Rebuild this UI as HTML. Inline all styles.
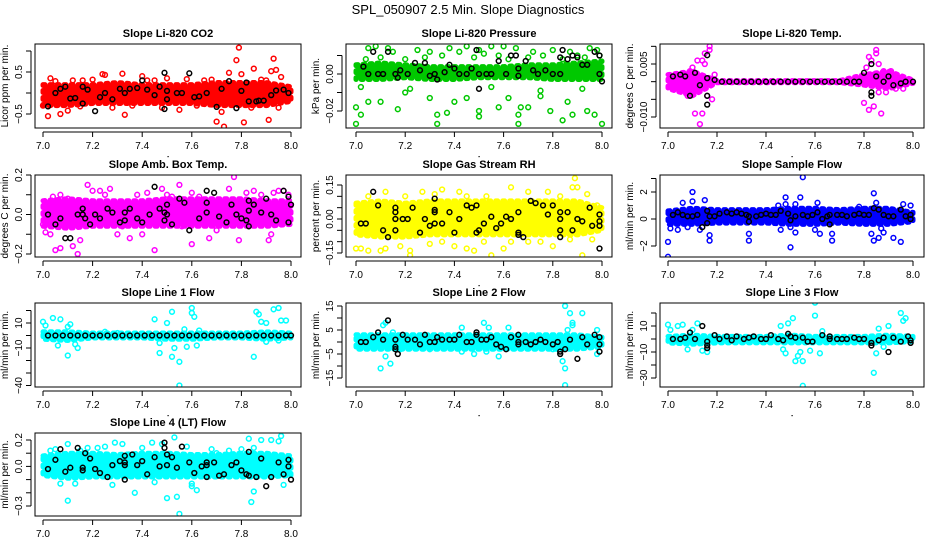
<!DOCTYPE html>
<html><head><meta charset="utf-8">
<style>
html,body{margin:0;padding:0;background:#fff;}
svg{display:block;font-family:"Liberation Sans",Arial,sans-serif;}
</style></head>
<body>
<svg id="chart" width="936" height="540" viewBox="0 0 936 540" xmlns="http://www.w3.org/2000/svg">
<rect x="0" y="0" width="936" height="540" fill="#fff"/>
<text x="468" y="14" text-anchor="middle" font-size="13">SPL_050907  2.5 Min. Slope Diagnostics</text>
</svg>
<script>
// shared x categories for band envelopes
const bandX = [7.0,7.1,7.2,7.3,7.4,7.5,7.6,7.7,7.8,7.9,8.0];
const xTicks = [7.0,7.2,7.4,7.6,7.8,8.0];
const xTickLabels = ["7.0","7.2","7.4","7.6","7.8","8.0"];

// Panel 1: CO2
const p1Lo = [-0.3,-0.3,-0.25,-0.25,-0.25,-0.25,-0.25,-0.3,-0.3,-0.3,-0.2];
const p1Hi = [0.2,0.2,0.2,0.25,0.2,0.2,0.2,0.25,0.25,0.25,0.15];
const p1Pts = [7.02,-0.55,7.0,-0.3,7.03,0.35,7.07,-0.5,7.1,-0.42,7.16,0.3,7.24,0.45,7.25,0.43,7.32,0.46,7.33,-0.52,7.4,0.4,7.45,0.3,7.5,0.35,7.55,-0.4,7.62,-0.3,7.65,0.3,7.7,-0.68,7.73,-0.8,7.75,0.48,7.78,0.78,7.79,1.08,7.8,0.45,7.81,-0.7,7.85,0.58,7.9,0.3,7.91,-0.64,7.92,0.52,7.93,0.82,7.94,0.55,7.96,0.38,7.95,-0.35,7.05,0.28,7.12,0.3,7.2,0.32,7.28,-0.35,7.36,-0.3,7.48,-0.35,7.58,0.33,7.68,0.32,7.72,-0.45,7.84,-0.35,7.88,0.32,7.98,0.1,7.15,-0.32,7.42,0.3];
const p1Blk = [7.02,-0.32,7.05,0.0,7.07,0.1,7.09,0.15,7.11,-0.13,7.13,-0.12,7.16,0.15,7.16,-0.25,7.18,0.08,7.21,-0.43,7.23,-0.1,7.25,0.0,7.28,-0.15,7.31,0.1,7.33,0.0,7.35,0.1,7.38,0.12,7.4,0.3,7.42,0.08,7.45,-0.05,7.47,0.15,7.49,0.48,7.49,-0.38,7.5,-0.15,7.5,0.05,7.54,0.0,7.56,0.0,7.59,0.47,7.61,-0.1,7.63,-0.08,7.66,0.0,7.7,-0.33,7.72,0.1,7.75,0.28,7.78,-0.36,7.8,0.05,7.82,0.25,7.83,-0.2,7.86,-0.2,7.87,-0.18,7.89,-0.18,7.92,-0.05,7.94,0.06,7.97,0.08,7.99,0.0];

// Panel 2: Pressure
const p2Lo = [-0.003,-0.003,-0.002,-0.003,-0.003,-0.002,-0.002,-0.002,-0.003,-0.003,-0.003];
const p2Hi = [0.005,0.006,0.005,0.004,0.004,0.004,0.004,0.005,0.005,0.006,0.007];
const p2Pts = [7.0,-0.018,7.0,-0.027,7.02,-0.022,7.05,-0.015,7.1,-0.015,7.17,-0.019,7.2,-0.01,7.3,-0.013,7.33,-0.022,7.33,-0.027,7.37,-0.021,7.4,-0.015,7.45,-0.013,7.5,-0.02,7.5,-0.023,7.58,-0.018,7.62,-0.013,7.66,-0.022,7.66,-0.027,7.67,-0.018,7.7,-0.018,7.75,-0.012,7.79,-0.02,7.84,-0.025,7.86,-0.015,7.88,-0.022,7.94,-0.02,7.97,-0.022,8.0,-0.027,7.05,0.014,7.08,0.015,7.13,0.014,7.25,0.013,7.3,0.012,7.38,0.014,7.45,0.015,7.5,0.013,7.55,0.015,7.6,0.015,7.65,0.014,7.72,0.012,7.8,0.013,7.87,0.012,7.95,0.014,7.98,0.013,7.15,0.012,7.42,0.012,7.52,0.011,7.9,0.01,7.02,-0.007,7.22,-0.008,7.55,-0.007,7.75,-0.009,7.92,-0.008,7.04,0.008,7.1,0.009,7.2,0.008,7.28,0.009,7.35,0.01,7.48,0.009,7.58,0.01,7.62,0.008,7.7,0.009,7.76,0.01,7.84,0.008,7.93,0.009,7.99,0.01];
const p2Blk = [7.03,0.004,7.05,0.0,7.07,0.012,7.09,0.0,7.11,0.0,7.13,0.012,7.16,0.0,7.17,-0.002,7.18,0.002,7.21,0.0,7.24,0.006,7.26,0.002,7.28,0.006,7.3,-0.001,7.32,0.0,7.33,-0.003,7.36,0.001,7.38,0.005,7.4,0.003,7.42,0.0,7.45,0.0,7.47,0.003,7.49,0.013,7.5,-0.008,7.5,0.0,7.53,0.0,7.55,0.0,7.58,0.007,7.61,0.0,7.63,0.01,7.65,0.01,7.66,0.003,7.66,-0.001,7.69,0.007,7.72,0.002,7.74,0.0,7.77,0.002,7.8,0.0,7.83,0.0,7.83,0.009,7.84,0.013,7.86,0.008,7.88,0.01,7.9,0.009,7.92,0.005,7.94,0.005,7.97,0.012,7.99,0.0,7.99,0.01,8.0,-0.004];

// Panel 3: Li-820 Temp
const p3Lo = [-0.002,-0.004,-0.0003,-0.0003,-0.0003,-0.0003,-0.0003,-0.0003,-0.001,-0.002,-0.0005];
const p3Hi = [0.002,0.003,0.0003,0.0003,0.0003,0.0003,0.0003,0.0003,0.002,0.003,0.0005];
const p3Pts = [7.02,0.001,7.05,0.0,7.08,-0.004,7.09,0.003,7.1,0.004,7.11,-0.009,7.12,0.006,7.13,-0.012,7.14,0.006,7.14,-0.009,7.15,0.005,7.16,-0.004,7.17,0.009,7.17,0.01,7.18,-0.005,7.19,0.002,7.12,-0.002,7.06,0.002,7.04,-0.001,7.15,0.008,7.8,-0.006,7.81,0.004,7.82,0.007,7.82,-0.008,7.83,0.006,7.84,-0.007,7.85,0.008,7.85,0.009,7.86,0.005,7.87,-0.009,7.88,0.003,7.89,-0.003,7.9,0.002,7.91,0.003,7.93,-0.002,7.96,-0.002,7.84,0.002,7.86,-0.003];
const p3Blk = [7.02,0.0015,7.05,0.002,7.07,0.0015,7.09,-0.004,7.11,0.0025,7.13,-0.001,7.16,0.001,7.16,-0.004,7.16,-0.0065,7.16,0.0075,7.19,0.0005,7.22,0,7.25,0,7.28,0,7.31,0,7.34,0,7.37,0,7.4,0,7.43,0,7.46,0,7.49,0,7.52,0,7.55,0,7.58,0,7.61,0,7.64,0,7.67,0,7.7,0,7.73,0,7.76,0,7.78,0,7.8,0.0025,7.83,0.005,7.83,-0.003,7.83,-0.004,7.85,0.0015,7.88,0.0,7.9,0.0015,7.92,-0.001,7.95,-0.0005,7.97,0.0,8.0,0.0];

// Panel 4: Amb. Box Temp
const p4Lo = [-0.06,-0.07,-0.06,-0.06,-0.06,-0.06,-0.06,-0.06,-0.06,-0.06,-0.05];
const p4Hi = [0.07,0.08,0.07,0.07,0.07,0.08,0.08,0.08,0.08,0.07,0.07];
const p4Pts = [7.0,-0.05,7.01,-0.09,7.03,-0.1,7.05,-0.18,7.07,-0.17,7.04,0.09,7.07,0.1,7.1,0.08,7.12,-0.16,7.14,-0.2,7.15,-0.13,7.18,0.15,7.2,0.12,7.23,0.12,7.25,0.1,7.27,0.13,7.3,-0.1,7.32,-0.06,7.35,-0.12,7.38,0.1,7.4,-0.1,7.42,0.11,7.45,-0.18,7.48,0.13,7.5,0.1,7.52,0.09,7.55,0.15,7.56,-0.06,7.6,-0.15,7.6,0.11,7.63,0.09,7.67,-0.12,7.7,-0.08,7.75,0.13,7.77,0.19,7.79,-0.13,7.82,0.11,7.85,0.12,7.88,0.1,7.91,-0.13,7.93,0.11,7.95,0.12,7.97,0.12,7.99,0.1,7.92,-0.1];
const p4Blk = [7.02,0.0,7.05,-0.05,7.07,-0.02,7.09,-0.12,7.11,-0.12,7.14,0.0,7.16,0.0,7.16,0.03,7.17,-0.02,7.19,-0.05,7.21,0.0,7.23,-0.02,7.26,0.03,7.28,0.01,7.31,-0.04,7.33,0.01,7.33,-0.03,7.35,0.03,7.38,-0.02,7.4,-0.04,7.43,0.0,7.45,0.14,7.47,0.03,7.49,0.01,7.49,-0.03,7.5,0.05,7.5,0.0,7.52,-0.05,7.55,0.08,7.57,0.06,7.59,-0.08,7.63,-0.02,7.66,0.12,7.66,0.01,7.66,0.06,7.69,0.11,7.71,-0.01,7.74,-0.04,7.76,0.05,7.78,0.0,7.8,-0.02,7.82,-0.03,7.83,0.07,7.83,0.02,7.83,-0.06,7.85,0.05,7.88,0.01,7.9,0.08,7.92,0.0,7.94,-0.03,7.97,0.12,7.99,0.09,7.99,-0.04,8.0,0.05];

// Panel 5: Gas Stream RH
const p5Lo = [-0.07,-0.08,-0.08,-0.07,-0.07,-0.07,-0.07,-0.07,-0.07,-0.07,-0.05];
const p5Hi = [0.07,0.08,0.07,0.08,0.08,0.08,0.08,0.08,0.08,0.08,0.05];
const p5Pts = [7.0,-0.13,7.02,-0.13,7.05,-0.14,7.1,-0.14,7.12,-0.13,7.18,-0.12,7.22,-0.16,7.22,-0.14,7.3,-0.11,7.35,-0.1,7.4,-0.12,7.45,-0.13,7.48,-0.14,7.52,-0.1,7.55,-0.16,7.6,-0.13,7.63,-0.1,7.7,-0.1,7.75,-0.1,7.8,-0.12,7.87,-0.09,7.92,-0.16,7.96,-0.09,7.05,0.1,7.12,0.12,7.2,0.1,7.27,0.12,7.32,0.11,7.35,0.13,7.42,0.12,7.45,0.1,7.53,0.1,7.63,0.14,7.7,0.12,7.78,0.12,7.83,0.1,7.88,0.14,7.89,0.18,7.9,0.14,7.94,0.11,7.98,0.06];
const p5Blk = [7.02,-0.02,7.04,-0.02,7.07,0.12,7.09,0.06,7.11,-0.05,7.13,-0.08,7.16,0.05,7.16,0.03,7.16,0.0,7.16,-0.05,7.19,0.0,7.21,0.0,7.23,0.05,7.26,-0.06,7.28,0.0,7.3,-0.03,7.32,-0.02,7.32,0.04,7.32,0.03,7.32,0.09,7.35,-0.02,7.38,0.03,7.4,-0.06,7.42,0.0,7.45,0.06,7.47,0.05,7.49,0.06,7.49,-0.06,7.5,-0.05,7.52,-0.02,7.55,0.01,7.57,-0.04,7.59,-0.02,7.61,0.01,7.63,0.0,7.66,0.03,7.66,-0.06,7.66,-0.07,7.68,-0.08,7.71,0.08,7.73,0.07,7.76,0.06,7.78,0.02,7.8,0.06,7.83,0.03,7.83,0.0,7.83,-0.05,7.83,-0.08,7.86,0.03,7.88,-0.05,7.9,0.0,7.92,-0.01,7.95,0.05,7.96,-0.03,7.99,-0.03,7.99,0.02,7.99,-0.01,7.99,-0.13];

// Panel 6: Sample Flow
const p6Lo = [-0.4,-0.4,-0.3,-0.3,-0.3,-0.4,-0.4,-0.3,-0.4,-0.4,-0.2];
const p6Hi = [0.6,0.8,0.7,0.7,0.7,0.8,0.8,0.7,0.8,0.8,0.5];
const p6Pts = [7.0,-1.7,7.0,-2.8,7.01,-0.7,7.04,-0.8,7.06,1.2,7.08,-0.6,7.1,1.3,7.1,2.0,7.13,-0.8,7.15,1.4,7.17,-1.2,7.17,-1.6,7.33,-1.1,7.33,-1.6,7.45,1.0,7.46,-0.8,7.48,1.6,7.48,1.1,7.5,-0.6,7.5,-2.1,7.52,1.1,7.52,-1.0,7.54,1.6,7.55,3.1,7.6,-0.8,7.61,1.2,7.62,-1.1,7.67,-1.1,7.67,-1.6,7.78,0.9,7.83,-1.1,7.84,1.9,7.84,-1.6,7.85,1.2,7.86,-1.4,7.88,-1.0,7.92,-1.4,7.95,-1.7,7.96,1.1,7.99,1.0,7.87,-0.7];
const p6Blk = [7.02,0.3,7.04,0.5,7.06,0.3,7.08,0.2,7.1,0.2,7.12,0.3,7.14,-0.6,7.16,0.6,7.16,-0.3,7.17,0.2,7.19,0.2,7.21,0.4,7.24,0.5,7.26,0.4,7.28,0.5,7.3,0.4,7.32,0.3,7.33,-0.2,7.33,0.2,7.36,0.2,7.38,0.3,7.4,0.4,7.42,0.3,7.44,0.3,7.46,0.6,7.49,0.4,7.5,-0.1,7.52,0.2,7.55,0.3,7.57,0.2,7.59,0.3,7.61,0.5,7.63,0.0,7.65,0.2,7.66,-0.4,7.66,0.3,7.69,0.3,7.71,0.3,7.73,0.2,7.76,0.3,7.78,0.4,7.8,0.3,7.82,0.3,7.84,0.8,7.86,0.7,7.88,0.3,7.9,0.2,7.92,0.2,7.95,0.7,7.97,0.2,7.99,0.3,7.99,0.0];

// Panel 7: Line 1 Flow
const p7Lo = [-3,-4,-2,-2,-2,-3,-3,-2,-2,-3,-2];
const p7Hi = [3,3,2,2,2,2,2,2,2,3,2];
const p7Pts = [7.0,11,7.01,8,7.04,14,7.07,13,7.06,-8,7.1,7,7.11,9,7.1,-16,7.13,-7,7.14,-10,7.25,3,7.3,2,7.45,13,7.47,-14,7.5,10,7.52,19,7.52,-17,7.53,-10,7.55,-21,7.55,-40,7.58,-9,7.6,22,7.6,18,7.61,15,7.62,-8,7.63,4,7.85,-17,7.86,19,7.87,17,7.88,11,7.9,10,7.93,21,7.95,22,7.96,12,7.98,12,7.95,-4,7.9,-5,7.47,-6,7.57,5];
const p7Blk = [7.02,0,7.05,0,7.08,0,7.11,0,7.14,0,7.17,0,7.2,0,7.23,0,7.26,0,7.29,0,7.32,0,7.35,0,7.38,0,7.41,0,7.44,0,7.47,0,7.5,0,7.53,0,7.56,0,7.59,0,7.62,0,7.65,0,7.68,0,7.71,0,7.74,0,7.77,0,7.8,0,7.83,0,7.86,0,7.89,0,7.92,0,7.95,0,7.98,0,8.0,0];

// Panel 8: Line 2 Flow
const p8Lo = [-3,-3,-3,-3,-3,-3,-3,-3,-3,-3,-2];
const p8Hi = [3,3,3,3,3,3,3,3,3,3,2];
const p8Pts = [7.1,-11,7.11,7,7.12,8,7.12,-6,7.14,-9,7.15,4,7.18,-3,7.3,-3,7.43,6,7.43,-4,7.48,-5,7.52,8,7.53,-4,7.54,6,7.58,-6,7.62,6,7.8,-3,7.84,-8,7.85,-11,7.85,15,7.85,-18,7.86,5,7.87,12,7.88,8,7.88,7,7.92,12,7.98,5,7.98,-5];
const p8Blk = [7.02,0,7.04,0,7.07,2,7.09,4,7.11,1,7.13,9,7.16,1,7.16,-2,7.16,-3,7.17,-5,7.19,3,7.21,1,7.24,1,7.26,-1,7.28,3,7.3,0,7.32,0,7.33,2,7.35,1,7.38,1,7.4,1,7.42,3,7.45,0,7.47,0,7.49,4,7.49,3,7.51,1,7.53,1,7.55,2,7.57,-1,7.59,-2,7.61,-3,7.63,2,7.66,-1,7.66,0,7.66,3,7.69,0,7.71,-1,7.73,0,7.75,1,7.77,0,7.8,-1,7.82,0,7.83,-4,7.83,-5,7.85,-3,7.87,1,7.9,-7,7.92,2,7.94,-1,7.97,3,7.99,2,7.99,-1,7.99,-4];

// Panel 9: Line 3 Flow
const p9Lo = [-3,-4,-3,-3,-3,-3,-3,-3,-3,-3,-2];
const p9Hi = [2,3,2,2,2,3,2,2,2,3,2];
const p9Pts = [7.0,11,7.01,7,7.04,10,7.06,11,7.08,-8,7.1,7,7.12,12,7.14,-9,7.16,-10,7.46,10,7.47,-8,7.48,-11,7.49,12,7.51,16,7.52,-17,7.53,-13,7.54,-10,7.55,-17,7.55,-36,7.58,-9,7.6,28,7.6,18,7.62,-11,7.63,6,7.84,-26,7.85,-11,7.86,8,7.9,10,7.95,20,7.96,14,7.97,16,7.88,-6];
const p9Blk = [7.02,0,7.05,0,7.07,1,7.09,5,7.11,0,7.14,10,7.16,-2,7.16,-5,7.16,-7,7.19,3,7.21,0,7.24,2,7.26,-1,7.28,2,7.31,0,7.33,1,7.35,2,7.38,0,7.4,0,7.42,3,7.45,0,7.47,-1,7.49,4,7.5,2,7.52,1,7.55,1,7.57,-2,7.59,-2,7.63,3,7.66,0,7.66,2,7.69,0,7.71,0,7.73,0,7.76,1,7.78,0,7.8,0,7.83,-3,7.83,-5,7.86,-1,7.88,1,7.9,-10,7.92,1,7.95,-2,7.98,2,7.99,-1,7.99,-3];

// Panel 10: Line 4 (LT) Flow
const p10Lo = [-0.07,-0.09,-0.08,-0.08,-0.08,-0.08,-0.08,-0.08,-0.08,-0.08,-0.07];
const p10Hi = [0.08,0.1,0.1,0.09,0.1,0.1,0.09,0.09,0.1,0.1,0.08];
const p10Pts = [7.01,0.07,7.03,0.12,7.05,0.13,7.07,-0.13,7.1,-0.26,7.1,0.17,7.13,-0.13,7.15,0.12,7.18,0.14,7.22,0.14,7.25,0.15,7.28,-0.14,7.29,0.18,7.32,0.17,7.37,-0.2,7.4,0.14,7.44,0.18,7.45,-0.12,7.48,0.17,7.5,-0.24,7.53,0.22,7.54,-0.23,7.55,-0.36,7.58,0.15,7.6,-0.13,7.6,-0.15,7.62,-0.18,7.68,0.13,7.7,0.1,7.75,0.12,7.8,0.13,7.83,0.21,7.84,-0.27,7.85,-0.19,7.88,0.2,7.92,0.2,7.95,0.19,7.96,0.23,7.97,-0.14,7.85,0.14];
const p10Blk = [7.02,-0.02,7.05,0.05,7.07,0.13,7.09,-0.04,7.11,-0.01,7.14,0.14,7.16,-0.01,7.16,-0.03,7.17,0.1,7.19,0.06,7.21,-0.02,7.23,-0.05,7.26,-0.08,7.28,0.01,7.31,0.04,7.33,0.03,7.33,0.08,7.33,0.01,7.33,-0.1,7.36,0.09,7.38,0.01,7.4,0.04,7.42,-0.06,7.45,0.07,7.47,0.0,7.49,0.14,7.49,0.18,7.5,0.09,7.5,0.01,7.52,0.07,7.54,-0.01,7.56,0.15,7.59,0.03,7.61,-0.05,7.64,0.0,7.66,0.03,7.66,0.01,7.66,-0.08,7.69,0.03,7.71,-0.07,7.73,-0.06,7.76,0.01,7.78,0.03,7.8,-0.03,7.82,-0.06,7.83,-0.07,7.83,0.11,7.86,-0.08,7.88,0.06,7.9,-0.15,7.92,-0.08,7.95,0.03,7.97,-0.06,7.99,0.05,7.99,0.0,8.0,-0.1];

// tick values and labels
const p1YTicks=[1.0,0.5,0,-0.5], p1YLabels=["","0.5","","-0.5"];
const p2YTicks=[0.01,0,-0.01,-0.02], p2YLabels=["","0.00","","-0.02"];
const p3YTicks=[0.010,0.005,0,-0.005,-0.010], p3YLabels=["","0.005","","","-0.010"];
const p4YTicks=[0.2,0.1,0,-0.1,-0.2], p4YLabels=["0.2","","0.0","","-0.2"];
const p5YTicks=[0.15,0.10,0.05,0,-0.05,-0.10,-0.15], p5YLabels=["0.15","","","0.00","","","-0.15"];
const p6YTicks=[3,2,0,-2], p6YLabels=["","2","0","-2"];
const p7YTicks=[20,10,0,-10,-20,-30,-40], p7YLabels=["","10","","-10","","","-40"];
const p8YTicks=[15,10,5,0,-5,-10,-15], p8YLabels=["15","","5","","-5","","-15"];
const p9YTicks=[20,10,0,-10,-20,-30], p9YLabels=["","10","","-10","","-30"];
const p10YTicks=[0.2,0.1,0,-0.1,-0.2,-0.3], p10YLabels=["0.2","","0.0","","","-0.3"];

const cols=[{x7:43,x8:291,l:35,r:301},{x7:356,x8:602,l:346,r:612},{x7:668,x8:913,l:660,r:924}];
const rows=[{t:44,b:128},{t:175,b:257},{t:303,b:387},{t:433,b:516}];

const panels=[
 {id:'co2',title:'Slope Li-820 CO2',yl:'Licor ppm per min.',c:0,r:0,col:'#ff0000',ref:[0.5,72,-0.5,114],lo:p1Lo,hi:p1Hi,pts:p1Pts,blk:p1Blk,yt:p1YTicks,ylab:p1YLabels},
 {id:'pressure',title:'Slope Li-820 Pressure',yl:'kPa per min.',c:1,r:0,col:'#00c800',ref:[0,74,-0.02,111],lo:p2Lo,hi:p2Hi,pts:p2Pts,blk:p2Blk,yt:p2YTicks,ylab:p2YLabels},
 {id:'li820-temp',title:'Slope Li-820 Temp.',yl:'degrees C per min.',c:2,r:0,col:'#ff00ff',ref:[0.005,64,-0.010,117],lo:p3Lo,hi:p3Hi,pts:p3Pts,blk:p3Blk,yt:p3YTicks,ylab:p3YLabels},
 {id:'amb-box-temp',title:'Slope Amb. Box Temp.',yl:'degrees C per min.',c:0,r:1,col:'#ff00ff',ref:[0.2,175,-0.2,254],lo:p4Lo,hi:p4Hi,pts:p4Pts,blk:p4Blk,yt:p4YTicks,ylab:p4YLabels},
 {id:'gas-rh',title:'Slope Gas Stream RH',yl:'percent per min.',c:1,r:1,col:'#ffff00',ref:[0.15,185,-0.15,253],lo:p5Lo,hi:p5Hi,pts:p5Pts,blk:p5Blk,yt:p5YTicks,ylab:p5YLabels},
 {id:'sample-flow',title:'Slope Sample Flow',yl:'ml/min per min.',c:2,r:1,col:'#0000ff',ref:[2,192,-2,246],lo:p6Lo,hi:p6Hi,pts:p6Pts,blk:p6Blk,yt:p6YTicks,ylab:p6YLabels},
 {id:'line1-flow',title:'Slope Line 1 Flow',yl:'ml/min per min.',c:0,r:2,col:'#00ffff',ref:[10,323,-10,348],lo:p7Lo,hi:p7Hi,pts:p7Pts,blk:p7Blk,yt:p7YTicks,ylab:p7YLabels},
 {id:'line2-flow',title:'Slope Line 2 Flow',yl:'ml/min per min.',c:1,r:2,col:'#00ffff',ref:[15,306,-15,378],lo:p8Lo,hi:p8Hi,pts:p8Pts,blk:p8Blk,yt:p8YTicks,ylab:p8YLabels},
 {id:'line3-flow',title:'Slope Line 3 Flow',yl:'ml/min per min.',c:2,r:2,col:'#00ffff',ref:[10,326,-30,378],lo:p9Lo,hi:p9Hi,pts:p9Pts,blk:p9Blk,yt:p9YTicks,ylab:p9YLabels},
 {id:'line4-flow',title:'Slope Line 4 (LT) Flow',yl:'ml/min per min.',c:0,r:3,col:'#00ffff',ref:[0.2,440,-0.3,506],lo:p10Lo,hi:p10Hi,pts:p10Pts,blk:p10Blk,yt:p10YTicks,ylab:p10YLabels}
];

const NS='http://www.w3.org/2000/svg';
const svg=document.getElementById('chart');
function mk(tag,attrs,parent){const e=document.createElementNS(NS,tag);for(const k in attrs)e.setAttribute(k,attrs[k]);(parent||svg).appendChild(e);return e;}

panels.forEach(p=>{
  const C=cols[p.c],R=rows[p.r];
  const xs=v=>C.x7+(v-7)*(C.x8-C.x7);
  const ys=v=>p.ref[1]+(v-p.ref[0])*(p.ref[3]-p.ref[1])/(p.ref[2]-p.ref[0]);
  const g=mk('g',{});
  
  
  const clipId='clip-'+p.id;
  const cp=mk('clipPath',{id:clipId},g);
  mk('rect',{x:C.l,y:R.t,width:C.r-C.l,height:R.b-R.t},cp);
  const plot=mk('g',{'clip-path':'url(#'+clipId+')'},g);
  
  
  // band
  let d='';
  bandX.forEach((x,i)=>{d+=(i?'L':'M')+xs(x).toFixed(1)+','+ys(p.hi[i]).toFixed(1);});
  for(let i=bandX.length-1;i>=0;i--){d+='L'+xs(bandX[i]).toFixed(1)+','+ys(p.lo[i]).toFixed(1);}
  const band=mk('path',{d:d+'Z',fill:p.col,stroke:p.col,'stroke-width':5,'stroke-linejoin':'round','stroke-linecap':'round','stroke-dasharray':'2 5'},plot);
  
  
  for(let i=0;i<p.pts.length;i+=2){
    const c=mk('circle',{cx:xs(p.pts[i]).toFixed(1),cy:ys(p.pts[i+1]).toFixed(1),r:2.4,fill:'none',stroke:p.col,'stroke-width':1.5},plot);
    
    
  }
  for(let i=0;i<p.blk.length;i+=2){
    const c=mk('circle',{cx:xs(p.blk[i]).toFixed(1),cy:ys(p.blk[i+1]).toFixed(1),r:2.4,fill:'none',stroke:'#000','stroke-width':1.5},plot);
    
    
  }
  // box
  const box=mk('rect',{x:C.l,y:R.t,width:C.r-C.l,height:R.b-R.t,fill:'none',stroke:'#000','stroke-width':1},g);
  
  
  // title
  const t=mk('text',{x:(C.l+C.r)/2,y:R.t-7,'text-anchor':'middle','font-size':11,'font-weight':'bold'},g);
  t.textContent=p.title;
  
  
  // x axis
  const xa=mk('g',{},g);
  
  
  mk('line',{x1:xs(xTicks[0]),x2:xs(xTicks[xTicks.length-1]),y1:R.b+4,y2:R.b+4,stroke:'#000','stroke-width':1},xa);
  xTicks.forEach((v,i)=>{
    mk('line',{x1:xs(v),x2:xs(v),y1:R.b+4,y2:R.b+9,stroke:'#000','stroke-width':1},xa);
    const lt=mk('text',{x:xs(v),y:R.b+21,'text-anchor':'middle','font-size':10},xa);
    lt.textContent=xTickLabels[i];
    
    
  });
  mk('rect',{x:(C.l+C.r)/2-0.5,y:R.b+28,width:1.2,height:1.2,fill:'#000'},xa);
  // y axis
  const ya=mk('g',{},g);
  
  
  const ax=C.l-4;
  mk('line',{x1:ax,x2:ax,y1:ys(p.yt[0]),y2:ys(p.yt[p.yt.length-1]),stroke:'#000','stroke-width':1},ya);
  p.yt.forEach((v,i)=>{
    const yy=ys(v);
    mk('line',{x1:ax-5,x2:ax,y1:yy,y2:yy,stroke:'#000','stroke-width':1},ya);
    if(p.ylab[i]){
      const lt=mk('text',{x:0,y:0,'text-anchor':'middle','font-size':10,transform:'translate('+(ax-9)+','+yy+') rotate(-90)'},ya);
      lt.textContent=p.ylab[i].replace('-','\u2212');
      
      
    }
  });
  const yl=mk('text',{x:0,y:0,'text-anchor':'middle','font-size':10,transform:'translate('+(C.l-27)+','+((R.t+R.b)/2)+') rotate(-90)'},ya);
  yl.textContent=p.yl;
  
  
});
</script>
</body></html>
